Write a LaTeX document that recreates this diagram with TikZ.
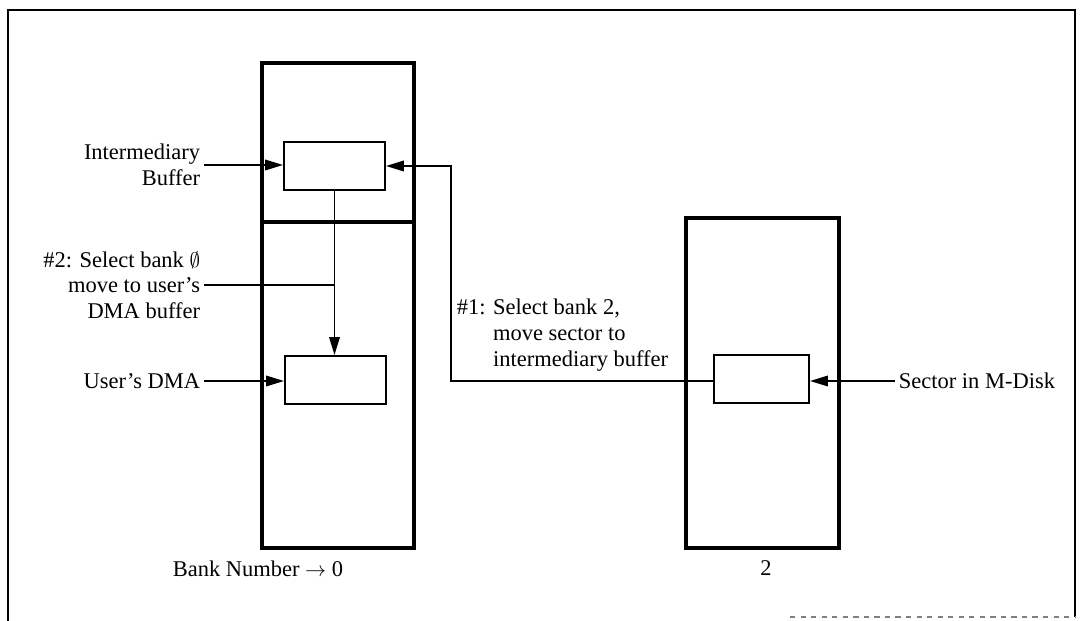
\documentclass[tikz,border=0pt]{standalone}
\usepackage{fontspec}
\setmainfont{Liberation Serif}
\usetikzlibrary{arrows.meta}
\begin{document}
\begin{tikzpicture}[x=0.02cm, y=-0.02cm,
    bank/.style={draw, line width=2.2pt, minimum width=3.04cm, inner sep=0},
    slot/.style={draw, line width=1.1pt, minimum width=2.02cm, minimum height=0.96cm, inner sep=0},
    lbl/.style={font=\fontsize{12.8}{14.6}\selectfont, inner sep=2pt},
    wire/.style={line width=1.1pt},
    arr/.style={wire, -{Triangle[length=3.6mm, width=2.1mm]}}]
    \useasboundingbox (0,0) rectangle (1081,621);
    % frame
    \draw[line width=1.6pt] (8,621) -- (8,10) -- (1075,10) -- (1075,617);
    \draw[gray, dashed, line width=1pt] (790,617) -- (1075,617);

    % bank 0
    \node[bank, minimum height=3.18cm] (b0top) at (338,142.5) {};
    \node[bank, minimum height=6.52cm] (b0bot) at (338,385) {};
    % bank 2
    \node[bank, minimum width=3.06cm, minimum height=6.6cm] (b2) at (762.5,383) {};

    % buffers
    \node[slot] (ib) at (334.5,166) {};
    \node[slot] (dma) at (335.5,380) {};
    \node[slot, minimum width=1.9cm] (sec) at (761.5,379) {};

    % labels
    \node[lbl, anchor=east, align=right] (iblbl) at (204,165) {Intermediary\\Buffer};
    \node[lbl, anchor=east, align=right] (sel0) at (204,285) {\#2: Select bank $\emptyset$\\move to user's\\DMA buffer};
    \node[lbl, anchor=east] (dmalbl) at (204,381) {User's DMA};
    \node[lbl, anchor=west, align=left] (sel2) at (453,335) {\#1: Select bank 2,\\\hphantom{\#1: }move sector to\\\hphantom{\#1: }intermediary buffer};
    \node[lbl, anchor=west] (seclbl) at (895,381) {Sector in M-Disk};
    \node[lbl] (n0) at (258,569) {Bank Number $\rightarrow$ 0};
    \node[lbl] (n2) at (766,568) {2};

    % connectors
    \coordinate (turn) at (451,381);
    \draw[arr] (iblbl.east) -- (iblbl.east -| ib.west);
    \draw[arr] (dmalbl.east) -- (dmalbl.east -| dma.west);
    \draw[arr] (ib.south) -- (ib.south |- dma.north);
    \draw[wire] (sel0.east) -- (sel0.east -| ib.south);
    \draw[arr] (turn -| sec.west) -- (turn) |- (ib.east);
    \draw[arr] (seclbl.west) -- (seclbl.west -| sec.east);
\end{tikzpicture}
\end{document}
